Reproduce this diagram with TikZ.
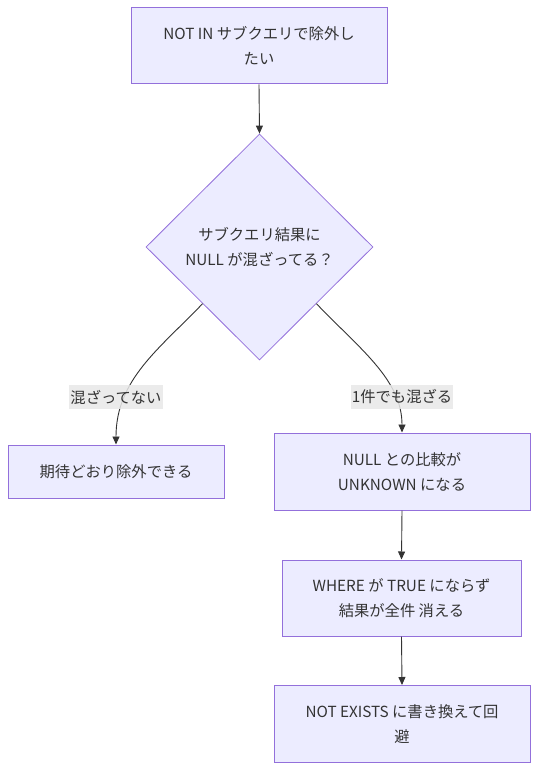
\documentclass[tikz,border=0pt]{standalone}
\usepackage{fontspec}
\setmainfont{Noto Sans CJK JP}
\usetikzlibrary{shapes.geometric,arrows.meta}
\definecolor{nodefill}{HTML}{ECECFF}
\definecolor{nodeline}{HTML}{9370DB}
\definecolor{edgecol}{HTML}{333333}
\definecolor{txtcol}{HTML}{333333}
\definecolor{lblfill}{HTML}{E8E8E8}
\tikzset{
  box/.style={draw=nodeline, fill=nodefill, line width=1pt, inner sep=0pt, align=center,
    text=txtcol, font=\fontsize{15.3}{25}\selectfont},
  dia/.style={diamond, draw=nodeline, fill=nodefill, line width=0.8pt, inner sep=0pt, align=center,
    text=txtcol, font=\fontsize{15.3}{25}\selectfont, minimum width=227pt, minimum height=226pt},
  edge/.style={draw=edgecol, line width=0.9pt, -{Triangle[length=8pt,width=7pt]}},
  lbl/.style={fill=lblfill, fill opacity=0.85, text opacity=1, text=txtcol, inner sep=0pt,
    font=\fontsize{15.3}{25}\selectfont, minimum height=24pt},
}
\begin{document}
\begin{tikzpicture}[x=1pt,y=-1pt]
\useasboundingbox (0,0) rectangle (546,783);
\node[box, minimum width=256pt, minimum height=76pt] (a) at (259,46) {NOT IN サブクエリで除外し\\たい};
\node[dia] (d) at (259.5,247) {サブクエリ結果に\\NULL が混ざってる？};
\node[box, minimum width=216pt, minimum height=53pt] (l) at (116,471.5) {期待どおり除外できる};
\node[box, minimum width=256pt, minimum height=77pt] (r1) at (402,471.5) {NULL との比較が\\UNKNOWN になる};
\node[box, minimum width=239pt, minimum height=76pt] (r2) at (401.5,598) {WHERE が TRUE にならず\\結果が全件 消える};
\node[box, minimum width=256pt, minimum height=77pt] (r3) at (402,724) {NOT EXISTS に書き換えて回\\避};
\draw[edge] (a.south) -- (d.north);
\draw[edge] (d.south west) .. controls +(-43,45) and +(0,-65) .. (l.north);
\draw[edge] (d.south east) .. controls +(43,45) and +(0,-53) .. (r1.north);
\draw[edge] (r1.south) -- (r2.north);
\draw[edge] (r2.south) -- (r3.north);
\node[lbl, minimum width=94pt] (la) at (116,397) {混ざってない};
\node[lbl, minimum width=102pt] (lb) at (402,397) {1件でも混ざる};
\end{tikzpicture}
\end{document}
